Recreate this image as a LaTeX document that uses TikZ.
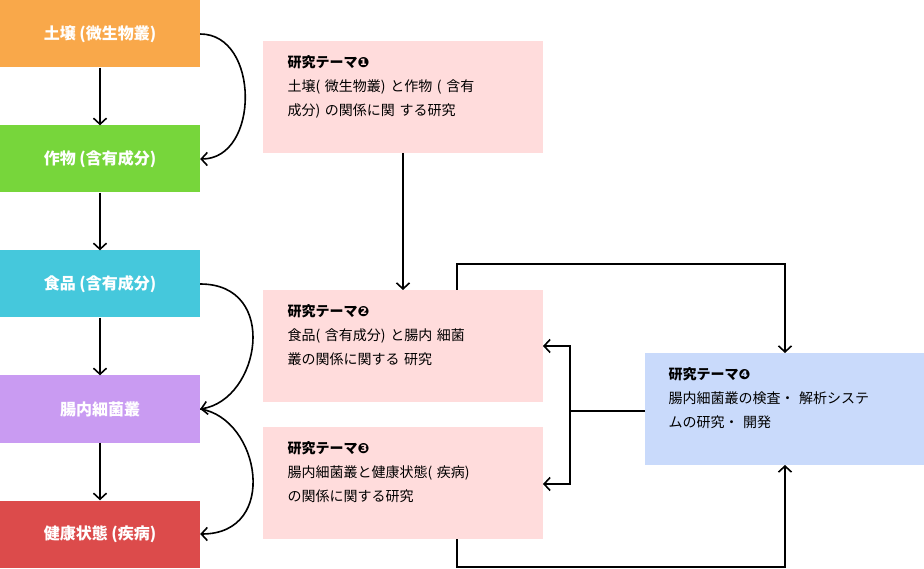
\documentclass[tikz,border=0pt]{standalone}
\usepackage{fontspec}
\setmainfont{Noto Sans CJK JP}
\newfontfamily\dv{DejaVu Sans}
\usetikzlibrary{arrows.meta}
\begin{document}
\begin{tikzpicture}[x=1pt,y=-1pt,
  lbox/.style={minimum width=200pt,minimum height=67pt,inner sep=0pt,text=white,font=\fontsize{16}{18}\selectfont\bfseries},
  tbox/.style={anchor=north west,inner sep=0pt,text width=#1,minimum height=112pt},
  ar/.style={line width=1.6pt,-{Straight Barb[length=6pt,width=13pt,line width=1.6pt]}},
  ln/.style={line width=1.6pt}]
\useasboundingbox (0,0) rectangle (924,569);
\definecolor{cO}{HTML}{F9A84A}\definecolor{cG}{HTML}{77D63B}\definecolor{cC}{HTML}{45C8DC}
\definecolor{cP}{HTML}{C99BF2}\definecolor{cR}{HTML}{DC4B4B}\definecolor{pk}{HTML}{FFDCDC}\definecolor{bl}{HTML}{C9DAFB}
\node[lbox,fill=cO] (a) at (100,34) {土壌 (微生物叢)};
\node[lbox,fill=cG] (b) at (100,159) {作物 (含有成分)};
\node[lbox,fill=cC] (c) at (100,284) {食品 (含有成分)};
\node[lbox,fill=cP] (d) at (100,409) {腸内細菌叢};
\node[lbox,fill=cR] (e) at (100,534) {健康状態 (疾病)};
\foreach \p/\q in {a/b,b/c,c/d,d/e} \draw[ar] (\p.south) -- (\q.north);
\draw[ar] (a.east) .. controls (260,34) and (260,159) .. (b.east);
\draw[ar] (c.east) .. controls (280,284) and (260,400) .. (d.east);
\draw[ar] (d.east) .. controls (260,418) and (280,534) .. (e.east);
\tikzset{tt/.style={font=\fontsize{14}{24}\selectfont}}
\fill[pk] (263,41) rectangle coordinate[pos=.5] (t1c) (543,153);
\fill[pk] (263,290) rectangle (543,402);
\fill[pk] (263,427) rectangle (543,539);
\fill[bl] (645,353) rectangle (924,465);
\coordinate (t1b) at (403,153); \coordinate (t2t) at (403,290);
\node[anchor=north west,text width=250pt,tt] (t1) at (284,52) {\textbf{研究テーマ{\dv ❶}}\\土壌( 微生物叢) と作物 ( 含有\\成分) の関係に関 する研究};
\node[anchor=north west,text width=250pt,tt] (t2) at (284,301) {\textbf{研究テーマ{\dv ❷}}\\食品( 含有成分) と腸内 細菌\\叢の関係に関する 研究};
\node[anchor=north west,text width=250pt,tt] (t3) at (284,438) {\textbf{研究テーマ{\dv ❸}}\\腸内細菌叢と健康状態( 疾病)\\の関係に関する研究};
\node[anchor=north west,text width=250pt,tt] (t4) at (665,364) {\textbf{研究テーマ{\dv ❹}}\\腸内細菌叢の検査・ 解析システ\\ムの研究・ 開発};
\draw[ar] (t1b) -- (t2t);
\draw[ar] (457,290) -- (457,264) -- (785,264) -- (785,353);
\draw[ar] (457,539) -- (457,567) -- (785,567) -- (785,465);
\draw[ln] (645,411) -- (570,411);
\draw[ar] (570,411) |- (543,346);
\draw[ar] (570,411) |- (543,484);
\end{tikzpicture}
\end{document}
